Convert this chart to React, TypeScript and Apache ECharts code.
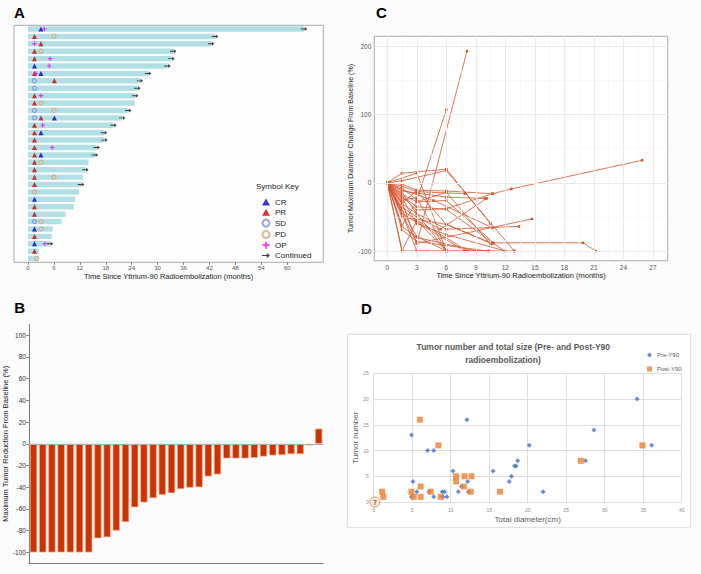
import React, { useEffect, useRef } from 'react';
import * as echarts from 'echarts';

const FONT = 'Liberation Sans';

// ---------------- Panel A: swimmer plot ----------------
const rowsA = ['1','2','3','4','5','6','7','8','9','10','11','12','13','14','15','16','17','18','19','20','21','22','23','24','25','26','27','28','29','30','31','32'];
const followUpA = [63.9, 43.3, 42.4, 33.6, 33.2, 32.3, 27.8, 25.9, 25.3, 24.8, 24.7, 23.2, 21.8, 19.8, 17.6, 17.7, 15.9, 15.5, 14.0, 13.3, 12.7, 12.3, 11.8, 10.9, 10.6, 8.7, 7.8, 5.7, 5.5, 5.1, 2.5, 2.5];
const continuedRows = [1, 2, 3, 4, 5, 6, 7, 8, 9, 10, 12, 13, 14, 15, 16, 17, 18, 20, 22, 30];
// [month, row]
const crA = [[3.0, 1], [1.5, 6], [3.0, 7], [6.1, 13], [3.0, 15], [3.0, 18], [1.5, 24], [1.5, 28], [1.5, 30]];
const prA = [[1.5, 2], [3.0, 3], [1.5, 4], [1.5, 5], [1.5, 7], [6.1, 8], [1.5, 10], [1.5, 11], [3.0, 13], [1.5, 14], [1.5, 15], [1.5, 16], [1.5, 17], [1.5, 18], [1.5, 19], [1.5, 20], [1.5, 21], [1.5, 22], [1.5, 25], [1.5, 26], [1.5, 29], [1.5, 31]];
const sdA = [[1.5, 8], [1.5, 9], [1.5, 12], [1.5, 13], [1.5, 27]];
const pdA = [[6.0, 2], [3.0, 4], [3.0, 11], [6.0, 12], [3.0, 19], [6.0, 21], [1.5, 23], [3.0, 27], [3.0, 28], [2.0, 32]];
const opA = [[3.8, 1], [1.5, 3], [5.1, 5], [4.9, 6], [1.8, 7], [3.0, 10], [3.4, 14], [5.6, 17], [3.9, 30]];
const ticksA = [0, 6, 12, 18, 24, 30, 36, 42, 48, 54, 60];

// ---------------- Panel B: waterfall ----------------
const patientsB = ['1','2','3','4','5','6','7','8','9','10','11','12','13','14','15','16','17','18','19','20','21','22','23','24','25','26','27','28','29','30','31','32'];
const changeB = [-100, -100, -100, -100, -100, -100, -100, -87, -86, -80, -72, -58.5, -54, -50, -47, -45.5, -41.7, -40.4, -40, -30, -28.2, -13.5, -13.5, -13.5, -13, -11.7, -10.7, -10.4, -9.5, -9.5, -1.5, 14];
const ticksB = [-100, -80, -60, -40, -20, 0, 20, 40, 60, 80, 100];

// ---------------- Panel C: spider plot ----------------
const patientsC = [
  [[0, 0], [1.5, 14], [6, 20], [10.5, -60]],
  [[0, 0], [3, 14], [6, -100]],
  [[0, 0], [1.5, 3], [6, 18], [12.9, -100]],
  [[0, 0], [1.5, -2], [3, -11], [6, -12], [10.7, -16], [12.6, -9], [25.9, 33]],
  [[0, 0], [1.5, -5], [3, -13], [7.9, -16]],
  [[0, 0], [1.5, -8], [3, -25], [6, 107]],
  [[0, 0], [1.5, -12], [3, -15], [6, -21], [9.9, -23]],
  [[0, 0], [1.5, -17], [3, -28], [6, -26], [10.8, -88], [19.9, -88], [21.2, -100]],
  [[0, 0], [1.5, -20], [3, -35], [6, -39], [11.9, -100]],
  [[0, 0], [1.5, -28], [3, -89], [14.7, -53]],
  [[0, 0], [1.5, -31], [3, -45], [6, -68], [13.4, -64]],
  [[0, 0], [1.5, -36], [3, -50], [5.4, -68], [10.1, -23]],
  [[0, 0], [1.5, -40], [3, -55], [8.2, -100]],
  [[0, 0], [1.5, -45], [3, -58], [7.9, -100]],
  [[0, 0], [1.5, -64], [3, -80], [9.1, -100]],
  [[0, 0], [1.5, -69], [3, -86], [10.2, -100]],
  [[0, 0], [1.5, -100], [3, -100], [10.4, -100]],
  [[0, 0], [3, -89], [8.1, 193]],
  [[0, 0], [1.5, -22], [3, -60], [6, -76], [12.0, -100]],
  [[0, 0], [1.5, -15], [3, -45], [6, -100]],
  [[0, 0], [1.5, -10], [4.7, -26], [10.7, -66]],
  [[0, 0], [1.5, -45], [3, -100], [6, -100]],
  [[0, 0], [1.5, -50], [6, -61], [10.6, -89]],
  [[0, 0], [3, -79], [6, -100], [12.9, -100]],
  [[0, 0], [1.5, -62], [3, -28], [6, -14], [10.5, -90]],
  [[0, 0], [1.5, -25], [3, -22], [6, -100]],
  [[0, 0], [1.5, -100], [3, -55], [6, -100]],
  [[0, 0], [3, -40], [6, -38], [10.7, -16]],
  [[0, 0], [1.5, -30], [3, -12], [6, -61], [10.7, -89]],
];
const ticksCX = [0, 3, 6, 9, 12, 15, 18, 21, 24, 27];
const minorCX = [1.5, 4.5, 7.5, 10.5, 13.5, 16.5, 19.5, 22.5, 25.5];
const ticksCY = [-100, 0, 100, 200];
const minorCY = [-50, 50, 150];

// ---------------- Panel D: scatter ----------------
const preY90 = [[4.9, 13], [5.1, 4], [5.6, 2], [4.9, 1], [7.0, 10], [7.8, 10], [7.2, 2], [7.8, 1], [8.9, 2], [9.2, 2], [9.0, 1], [9.5, 1], [10.3, 6], [11.0, 2], [11.4, 3], [12.2, 4], [12.3, 2], [12.1, 16], [15.5, 6], [17.6, 4], [17.9, 5], [18.3, 7], [18.5, 7], [18.7, 8], [20.2, 11], [22.0, 2], [27.5, 8], [28.6, 14], [34.2, 20], [36.1, 11]];
const postY90 = [[6.0, 16], [1.1, 2], [1.25, 1], [4.9, 2], [5.2, 1], [6.1, 3], [6.1, 1], [7.4, 2], [8.4, 11], [8.7, 1], [10.7, 5], [10.7, 4], [11.7, 3], [11.8, 5], [12.6, 2], [12.7, 5], [16.4, 2], [26.9, 8], [34.9, 11]];
const originCountD = 7;

export default function App() {
  const ref = useRef<HTMLDivElement>(null);
  useEffect(() => {
    if (!ref.current) return;
    const chart = echarts.init(ref.current, undefined, { renderer: 'svg' });
    const lineC = '#d4532b';
    const axisName = { fontSize: 7.5, color: '#1a1a1a', fontFamily: FONT };

    const gridLinesC = [
      ...ticksCX.map((v) => ({ xAxis: v, lineStyle: { color: '#ebebeb', width: 1, type: 'solid' } })),
      ...minorCX.map((v) => ({ xAxis: v, lineStyle: { color: '#f4f4f4', width: 0.6, type: 'solid' } })),
      ...ticksCY.map((v) => ({ yAxis: v, lineStyle: { color: '#ebebeb', width: 1, type: 'solid' } })),
      ...minorCY.map((v) => ({ yAxis: v, lineStyle: { color: '#f4f4f4', width: 0.6, type: 'solid' } })),
    ];

    const ring = (color: string) => ({ color: 'rgba(255,255,255,0)', borderColor: color, borderWidth: 1.3 });

    const option: any = {
      animation: false,
      backgroundColor: '#fbfbfb',
      textStyle: { fontFamily: FONT },
      grid: [
        { left: 14, top: 25.3, width: 309.3, height: 237, show: true, borderColor: '#aaaaaa', borderWidth: 1, backgroundColor: '#fefefe' },
        { left: 26.7, top: 324.3, width: 296.6, height: 239, show: false },
        { left: 374.3, top: 36.3, width: 293.4, height: 224.4, show: true, borderColor: '#aaaaaa', borderWidth: 1, backgroundColor: '#ffffff' },
        { left: 373.7, top: 373.3, width: 308, height: 128.7, show: false },
      ],
      xAxis: [
        {
          gridIndex: 0, type: 'value', min: -3.24, max: 68.35,
          axisLine: { show: false },
          axisTick: { show: true, customValues: ticksA, length: 2.5, lineStyle: { color: '#777' } },
          axisLabel: { customValues: ticksA, fontSize: 6, color: '#555', margin: 3 },
          splitLine: { show: false },
          name: 'Time Since Yttrium-90 Radioembolization (months)', nameLocation: 'middle', nameGap: 9, nameTextStyle: axisName,
        },
        {
          gridIndex: 1, type: 'category', data: patientsB,
          axisLine: { onZero: false, lineStyle: { color: '#777', width: 1 } },
          axisTick: { show: false }, axisLabel: { show: false },
        },
        {
          gridIndex: 2, type: 'value', min: -1.32, max: 28.5,
          axisLine: { show: false },
          axisTick: { show: true, customValues: ticksCX, length: 2.5, lineStyle: { color: '#777' } },
          axisLabel: { customValues: ticksCX, fontSize: 6.5, color: '#555', margin: 3 },
          splitLine: { show: false },
          name: 'Time Since Yttrium-90 Radioembolization (months)', nameLocation: 'middle', nameGap: 10, nameTextStyle: axisName,
        },
        {
          gridIndex: 3, type: 'value', min: 0, max: 40, interval: 5,
          axisLine: { show: false }, axisTick: { show: false },
          axisLabel: { fontSize: 5, color: '#8c8c8c', margin: 5 },
          splitLine: { lineStyle: { color: '#dedede', width: 1 } },
          name: 'Total diameter(cm)', nameLocation: 'middle', nameGap: 13,
          nameTextStyle: { fontSize: 8, color: '#595959', fontFamily: FONT },
        },
      ],
      yAxis: [
        {
          gridIndex: 0, type: 'category', data: rowsA, inverse: true,
          axisLine: { show: false }, axisTick: { show: false }, axisLabel: { show: false }, splitLine: { show: false },
        },
        {
          gridIndex: 1, type: 'value', min: -110, max: 110,
          axisLine: { show: true, lineStyle: { color: '#777', width: 1 } },
          axisTick: { show: true, customValues: ticksB, length: 2.5, lineStyle: { color: '#777' } },
          axisLabel: { customValues: ticksB, fontSize: 6.5, color: '#333', margin: 3 },
          splitLine: { show: false },
          name: 'Maximum Tumor Reduction From Baseline (%)', nameLocation: 'middle', nameGap: 14, nameTextStyle: { fontSize: 7.5, color: '#1a1a1a', fontFamily: FONT },
        },
        {
          gridIndex: 2, type: 'value', min: -114.2, max: 214.7,
          axisLine: { show: false },
          axisTick: { show: true, customValues: ticksCY, length: 2.5, lineStyle: { color: '#777' } },
          axisLabel: { customValues: ticksCY, fontSize: 6.5, color: '#555', margin: 3 },
          splitLine: { show: false },
          name: 'Tumor Maximum Diameter Change From Baseline (%)', nameLocation: 'middle', nameGap: 14, nameTextStyle: { fontSize: 7, color: '#1a1a1a', fontFamily: FONT },
        },
        {
          gridIndex: 3, type: 'value', min: 0, max: 25, interval: 5,
          axisLine: { show: false }, axisTick: { show: false },
          axisLabel: { fontSize: 5, color: '#8c8c8c', margin: 5 },
          splitLine: { lineStyle: { color: '#dedede', width: 1 } },
          name: 'Tumor number', nameLocation: 'middle', nameGap: 11,
          nameTextStyle: { fontSize: 8, color: '#595959', fontFamily: FONT },
        },
      ],
      legend: [
        {
          data: ['CR', 'PR', 'SD', 'PD', 'OP', 'Continued'], orient: 'vertical', left: 256.5, top: 193,
          itemWidth: 8, itemHeight: 7, itemGap: 2.3, selectedMode: false,
          textStyle: { fontSize: 8, color: '#222', fontFamily: FONT },
        },
        {
          data: ['Pre-Y90', 'Post-Y90'], orient: 'vertical', left: 642, top: 347,
          itemWidth: 5, itemHeight: 5, itemGap: 8, itemStyle: {}, selectedMode: false,
          textStyle: { fontSize: 6, color: '#595959', fontFamily: FONT },
        },
      ],
      graphic: [
        { type: 'rect', z: -1, silent: true, shape: { x: 347.3, y: 334.3, width: 343.4, height: 193 }, style: { fill: '#ffffff', stroke: '#dcdcdc', lineWidth: 1 } },
        { type: 'text', x: 14, y: 12.8, style: { text: 'A', font: `bold 15px "${FONT}"`, fill: '#000', textVerticalAlign: 'middle' } },
        { type: 'text', x: 14.3, y: 307.3, style: { text: 'B', font: `bold 15px "${FONT}"`, fill: '#000', textVerticalAlign: 'middle' } },
        { type: 'text', x: 376, y: 12.6, style: { text: 'C', font: `bold 15px "${FONT}"`, fill: '#000', textVerticalAlign: 'middle' } },
        { type: 'text', x: 361, y: 308, style: { text: 'D', font: `bold 15px "${FONT}"`, fill: '#000', textVerticalAlign: 'middle' } },
        { type: 'text', x: 256, y: 186, style: { text: 'Symbol Key', font: `8px "${FONT}"`, fill: '#222', textVerticalAlign: 'middle' } },
        { type: 'text', x: 513.3, y: 346.5, style: { text: 'Tumor number and total size (Pre- and Post-Y90', font: `bold 8.5px "${FONT}"`, fill: '#595959', textAlign: 'center', textVerticalAlign: 'middle' } },
        { type: 'text', x: 503, y: 359.7, style: { text: 'radioembolization)', font: `bold 8.5px "${FONT}"`, fill: '#595959', textAlign: 'center', textVerticalAlign: 'middle' } },
      ],
      series: [
        // Panel A
        { type: 'bar', xAxisIndex: 0, yAxisIndex: 0, data: followUpA, barWidth: '74%', itemStyle: { color: '#b0dfe5' }, silent: true, z: 1 },
        { name: 'CR', type: 'scatter', xAxisIndex: 0, yAxisIndex: 0, symbol: 'triangle', symbolSize: 5, itemStyle: { color: '#0000cc' }, data: crA.map((d) => [d[0], d[1] - 1]), z: 3 },
        { name: 'PR', type: 'scatter', xAxisIndex: 0, yAxisIndex: 0, symbol: 'triangle', symbolSize: 5, itemStyle: { color: '#cc0000' }, data: prA.map((d) => [d[0], d[1] - 1]), z: 3 },
        { name: 'SD', type: 'scatter', xAxisIndex: 0, yAxisIndex: 0, symbol: 'circle', symbolSize: 4, itemStyle: ring('#7f8ce6'), data: sdA.map((d) => [d[0], d[1] - 1]), z: 3 },
        { name: 'PD', type: 'scatter', xAxisIndex: 0, yAxisIndex: 0, symbol: 'circle', symbolSize: 4, itemStyle: ring('#d6a97a'), data: pdA.map((d) => [d[0], d[1] - 1]), z: 3 },
        { name: 'OP', type: 'scatter', xAxisIndex: 0, yAxisIndex: 0, symbol: 'path://M3,0H5V3H8V5H5V8H3V5H0V3H3Z', symbolSize: 4.5, itemStyle: { color: '#ff00ff' }, data: opA.map((d) => [d[0], d[1] - 1]), z: 4 },
        { name: 'Continued', type: 'scatter', xAxisIndex: 0, yAxisIndex: 0, symbol: 'path://M0,3.3H6V1L10,4L6,7V4.7H0Z', symbolSize: [6.5, 4], itemStyle: { color: '#111' }, data: continuedRows.map((r) => [followUpA[r - 1], r - 1]), z: 4 },
        // Panel B
        {
          type: 'bar', xAxisIndex: 1, yAxisIndex: 1, data: changeB, barWidth: '79%', silent: true,
          itemStyle: { color: '#cc3300', borderColor: '#f0b39a', borderWidth: 0.7 },
          markLine: { silent: true, symbol: 'none', label: { show: false }, data: [{ yAxis: 0 }], lineStyle: { color: '#aaaaaa', width: 1.2, type: 'solid' } },
        },
        // Panel C gridlines
        {
          type: 'line', xAxisIndex: 2, yAxisIndex: 2, data: [[0, 0]], showSymbol: false, lineStyle: { width: 0, opacity: 0 }, silent: true, z: 0,
          markLine: { silent: true, symbol: 'none', label: { show: false }, data: gridLinesC },
        },
        // Panel C patient lines
        ...patientsC.map((pts) => ({
          type: 'line', xAxisIndex: 2, yAxisIndex: 2, data: pts, symbol: 'rect', symbolSize: 2.5, showSymbol: true,
          lineStyle: { color: lineC, width: 0.8 }, itemStyle: { color: lineC }, silent: true, z: 2,
        })),
        // Panel D
        { name: 'Pre-Y90', type: 'scatter', xAxisIndex: 3, yAxisIndex: 3, symbol: 'diamond', symbolSize: 5, itemStyle: { color: '#4472c4' }, data: preY90, z: 3 },
        { name: 'Post-Y90', type: 'scatter', xAxisIndex: 3, yAxisIndex: 3, symbol: 'rect', symbolSize: 6, itemStyle: { color: '#ed7d31' }, data: postY90, z: 4 },
        {
          type: 'scatter', xAxisIndex: 3, yAxisIndex: 3, symbol: 'circle', symbolSize: 10, z: 5,
          itemStyle: { color: '#fbe3d3', borderColor: '#ed7d31', borderWidth: 1 },
          label: { show: true, position: 'inside', formatter: String(originCountD), fontSize: 7, color: '#404040', fontWeight: 'bold' },
          data: [[0.15, 0]],
        },
      ],
    };
    chart.setOption(option);
    return () => chart.dispose();
  }, []);
  return <div ref={ref} style={{ position: 'fixed', left: 0, top: 0, width: 701, height: 574 }} />;
}
